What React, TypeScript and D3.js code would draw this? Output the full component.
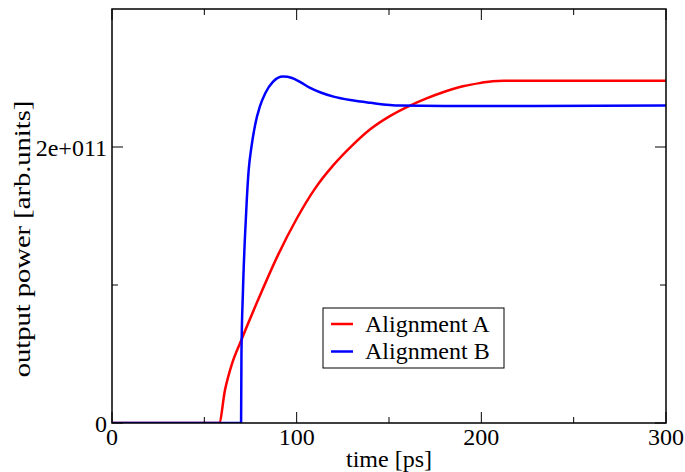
import React from "react";
import * as d3 from "d3";

const xTicks = [0, 100, 200, 300];
const xMinor = [50, 150, 250];
const yTicks = [0, 2e11];
const yTickLabels = ["0", "2e+011"];
const yMinor = [1e11];

// time [ps], power [1e11 arb.units]
const seriesATime = [0, 58, 61.2, 65, 70, 80, 90, 100, 110, 120, 130, 140, 150, 161.4, 170, 180, 190, 200, 206, 212, 300];
const seriesAValue = [0, 0, 0.24, 0.43, 0.6, 0.92, 1.22, 1.48, 1.7, 1.87, 2.01, 2.13, 2.22, 2.3, 2.35, 2.4, 2.44, 2.465, 2.477, 2.48, 2.48];
const seriesBTime = [0, 69.9, 70.1, 70.9, 72, 73, 74, 75.5, 77.5, 80, 83, 87, 92.6, 97.5, 102, 107, 113, 120, 129, 140, 156, 180, 300];
const seriesBValue = [0, 0, 0.5, 0.95, 1.35, 1.62, 1.83, 2.0, 2.16, 2.29, 2.39, 2.47, 2.51, 2.5, 2.47, 2.43, 2.395, 2.365, 2.34, 2.32, 2.3, 2.297, 2.3];
const seriesNames = ["Alignment A", "Alignment B"];
const seriesColors = ["#ff0000", "#0000ff"];

const W = 685, H = 472;
const L = 112, R = 666, T = 9, B = 423;
const txt = { fontFamily: "'Liberation Serif'", fontSize: "24px" };

export default function App() {
  const x = d3.scaleLinear().domain([0, 300]).range([L, R]);
  const y = d3.scaleLinear().domain([0, 3e11]).range([B, T]);
  const line = d3
    .line<[number, number]>()
    .x((d) => x(d[0]))
    .y((d) => y(d[1] * 1e11))
    .curve(d3.curveMonotoneX);
  const dataA = seriesATime.map((t, i) => [t, seriesAValue[i]] as [number, number]);
  const dataB = seriesBTime.map((t, i) => [t, seriesBValue[i]] as [number, number]);
  const major = 11, minor = 6;
  return (
    <svg width={W} height={H} style={{ position: "absolute", left: 0, top: 0, background: "#fff" }}>
      <rect x={0} y={0} width={W} height={H} fill="#fff" />
      <defs>
        <clipPath id="clip">
          <rect x={L} y={T} width={R - L} height={B - T} />
        </clipPath>
      </defs>
      <g clipPath="url(#clip)">
        <path d={line(dataA) || ""} fill="none" stroke={seriesColors[0]} strokeWidth={2.5} />
        <path d={line(dataB) || ""} fill="none" stroke={seriesColors[1]} strokeWidth={2.5} />
      </g>
      <rect x={L} y={T} width={R - L} height={B - T} fill="none" stroke="#000" strokeWidth={1.5} />
      {xTicks.map((t) => (
        <g key={"xt" + t}>
          <line x1={x(t)} x2={x(t)} y1={B} y2={B - major} stroke="#000" strokeWidth={1} />
          <line x1={x(t)} x2={x(t)} y1={T} y2={T + major} stroke="#000" strokeWidth={1} />
          <text x={x(t)} y={B + 22} style={txt} textAnchor="middle">
            {t}
          </text>
        </g>
      ))}
      {xMinor.map((t) => (
        <g key={"xm" + t}>
          <line x1={x(t)} x2={x(t)} y1={B} y2={B - minor} stroke="#000" strokeWidth={1} />
          <line x1={x(t)} x2={x(t)} y1={T} y2={T + minor} stroke="#000" strokeWidth={1} />
        </g>
      ))}
      {yTicks.map((v, i) => (
        <g key={"yt" + v}>
          <line x1={L} x2={L + major} y1={y(v)} y2={y(v)} stroke="#000" strokeWidth={1} />
          <line x1={R} x2={R - major} y1={y(v)} y2={y(v)} stroke="#000" strokeWidth={1} />
          <text x={L - 5} y={y(v) + 9} style={txt} textAnchor="end">
            {yTickLabels[i]}
          </text>
        </g>
      ))}
      {yMinor.map((v) => (
        <g key={"ym" + v}>
          <line x1={L} x2={L + minor} y1={y(v)} y2={y(v)} stroke="#000" strokeWidth={1} />
          <line x1={R} x2={R - minor} y1={y(v)} y2={y(v)} stroke="#000" strokeWidth={1} />
        </g>
      ))}
      <text x={(L + R) / 2} y={467} style={txt} textAnchor="middle">
        time [ps]
      </text>
      <text transform={`translate(30, 239) rotate(-90) scale(1.19, 1)`} style={txt} textAnchor="middle">
        output power [arb.units]
      </text>
      <g>
        <rect x={323} y={308} width={181} height={60} fill="#fff" stroke="#000" strokeWidth={1} />
        {seriesNames.map((n, i) => (
          <g key={n}>
            <line x1={331} x2={353} y1={324 + i * 27.5} y2={324 + i * 27.5} stroke={seriesColors[i]} strokeWidth={2.5} />
            <text x={365} y={332 + i * 27} style={txt}>
              {n}
            </text>
          </g>
        ))}
      </g>
    </svg>
  );
}
